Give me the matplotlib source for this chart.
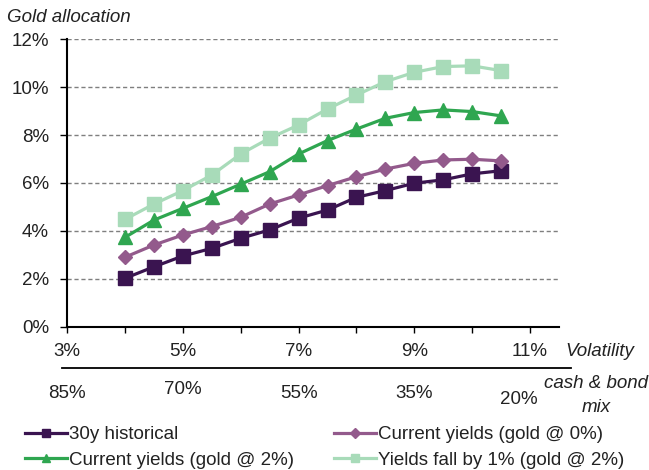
import matplotlib
matplotlib.use("Agg")
import matplotlib.pyplot as plt
from matplotlib.lines import Line2D
from matplotlib.ticker import MultipleLocator, FuncFormatter
import matplotlib.transforms as mtransforms

plt.rcParams['font.family'] = ['Liberation Sans', 'DejaVu Sans']

# ---- data ----
volatility = [4, 4.5, 5, 5.5, 6, 6.5, 7, 7.5, 8, 8.5, 9, 9.5, 10, 10.5]
hist_30y = [2.02, 2.50, 2.95, 3.27, 3.69, 4.04, 4.53, 4.87, 5.40, 5.68, 5.99, 6.13, 6.38, 6.51]
cur_gold0 = [2.90, 3.41, 3.83, 4.18, 4.57, 5.12, 5.50, 5.89, 6.26, 6.58, 6.82, 6.96, 6.99, 6.92]
cur_gold2 = [3.73, 4.45, 4.94, 5.43, 5.95, 6.47, 7.21, 7.77, 8.25, 8.70, 8.94, 9.05, 8.98, 8.80]
fall_gold2 = [4.48, 5.12, 5.68, 6.33, 7.21, 7.87, 8.42, 9.09, 9.67, 10.23, 10.62, 10.86, 10.89, 10.69]
series_names = ["30y historical", "Current yields (gold @ 0%)",
                "Current yields (gold @ 2%)", "Yields fall by 1% (gold @ 2%)"]
vol_tick_labels = ["3%", "5%", "7%", "9%", "11%"]
vol_tick_pos = [3, 5, 7, 9, 11]
mix_labels = ["85%", "70%", "55%", "35%", "20%"]
mix_pos = [3, 5, 7, 9, 10.8]

colors = ["#3a1450", "#935a8c", "#2fa650", "#a8dbb9"]
markers = ["s", "D", "^", "s"]
msizes = [10, 7.5, 10, 10]
FS = 13.5
TXT = '#222222'

fig = plt.figure(figsize=(6.49, 4.70), dpi=100)
ax = fig.add_axes([0.1035, 0.305, 0.7578, 0.6115])

series = [hist_30y, cur_gold0, cur_gold2, fall_gold2]
handles = []
for vals, c, m, ms, name in zip(series, colors, markers, msizes, series_names):
    ax.plot(volatility, vals, color=c, lw=2.3, marker=m, markersize=ms,
            markerfacecolor=c, markeredgecolor=c, zorder=3)
    handles.append(Line2D([], [], color=c, lw=2.3, marker=m, markersize=5.5,
                          markerfacecolor=c, markeredgecolor=c, label=name))

ax.set_xlim(3, 11.5)
ax.set_ylim(0, 12)
ax.yaxis.set_major_locator(MultipleLocator(2))
ax.yaxis.set_major_formatter(FuncFormatter(lambda v, p: f"{v:.0f}%"))
ax.xaxis.set_major_locator(MultipleLocator(1))
ax.set_xticklabels([])
ax.grid(axis='y', linestyle=(0, (3, 2)), color='#7f7f7f', lw=1.0, zorder=0)
for s in ['top', 'right']:
    ax.spines[s].set_visible(False)
for s in ['left', 'bottom']:
    ax.spines[s].set_linewidth(1.5)
    ax.spines[s].set_color('black')
ax.tick_params(axis='y', direction='out', length=5, width=1, labelsize=FS,
               colors='black', pad=8, labelcolor=TXT)
ax.tick_params(axis='x', direction='out', length=4, width=1, colors='black')

trans_x = mtransforms.blended_transform_factory(ax.transData, fig.transFigure)
for p, lab in zip(vol_tick_pos, vol_tick_labels):
    ax.text(p, 1 - 352 / 470, lab, transform=trans_x, ha='center', va='center',
            fontsize=FS, color=TXT)
fig.text(565 / 649, 1 - 352 / 470, "Volatility", style='italic', fontsize=FS,
         ha='left', va='center', color=TXT)

fig.add_artist(Line2D([62 / 649, 571 / 649], [1 - 368 / 470, 1 - 368 / 470],
                      color='black', lw=1.3, transform=fig.transFigure))

mix_y = [394, 390, 394, 394, 399]
for p, lab, yy in zip(mix_pos, mix_labels, mix_y):
    ax.text(p, 1 - yy / 470, lab, transform=trans_x, ha='center', va='center',
            fontsize=FS, color=TXT)
fig.text(596 / 649, 1 - 383 / 470, "cash & bond", style='italic', fontsize=FS,
         ha='center', va='center', color=TXT)
fig.text(596 / 649, 1 - 407 / 470, "mix", style='italic', fontsize=FS,
         ha='center', va='center', color=TXT)

fig.text(7 / 649, 1 - 17 / 470, "Gold allocation", style='italic', fontsize=FS,
         ha='left', va='center', color=TXT)

order = [0, 2, 1, 3]
fig.legend([handles[i] for i in order], [series_names[i] for i in order],
           ncol=2, loc='upper left', bbox_to_anchor=(25 / 649, 1 - 426 / 470),
           frameon=False, fontsize=FS, handlelength=2.25, handletextpad=0.12,
           columnspacing=2.1, labelspacing=0.45, borderaxespad=0, borderpad=0,
           labelcolor=TXT)

fig.savefig("out.png", dpi=100)
